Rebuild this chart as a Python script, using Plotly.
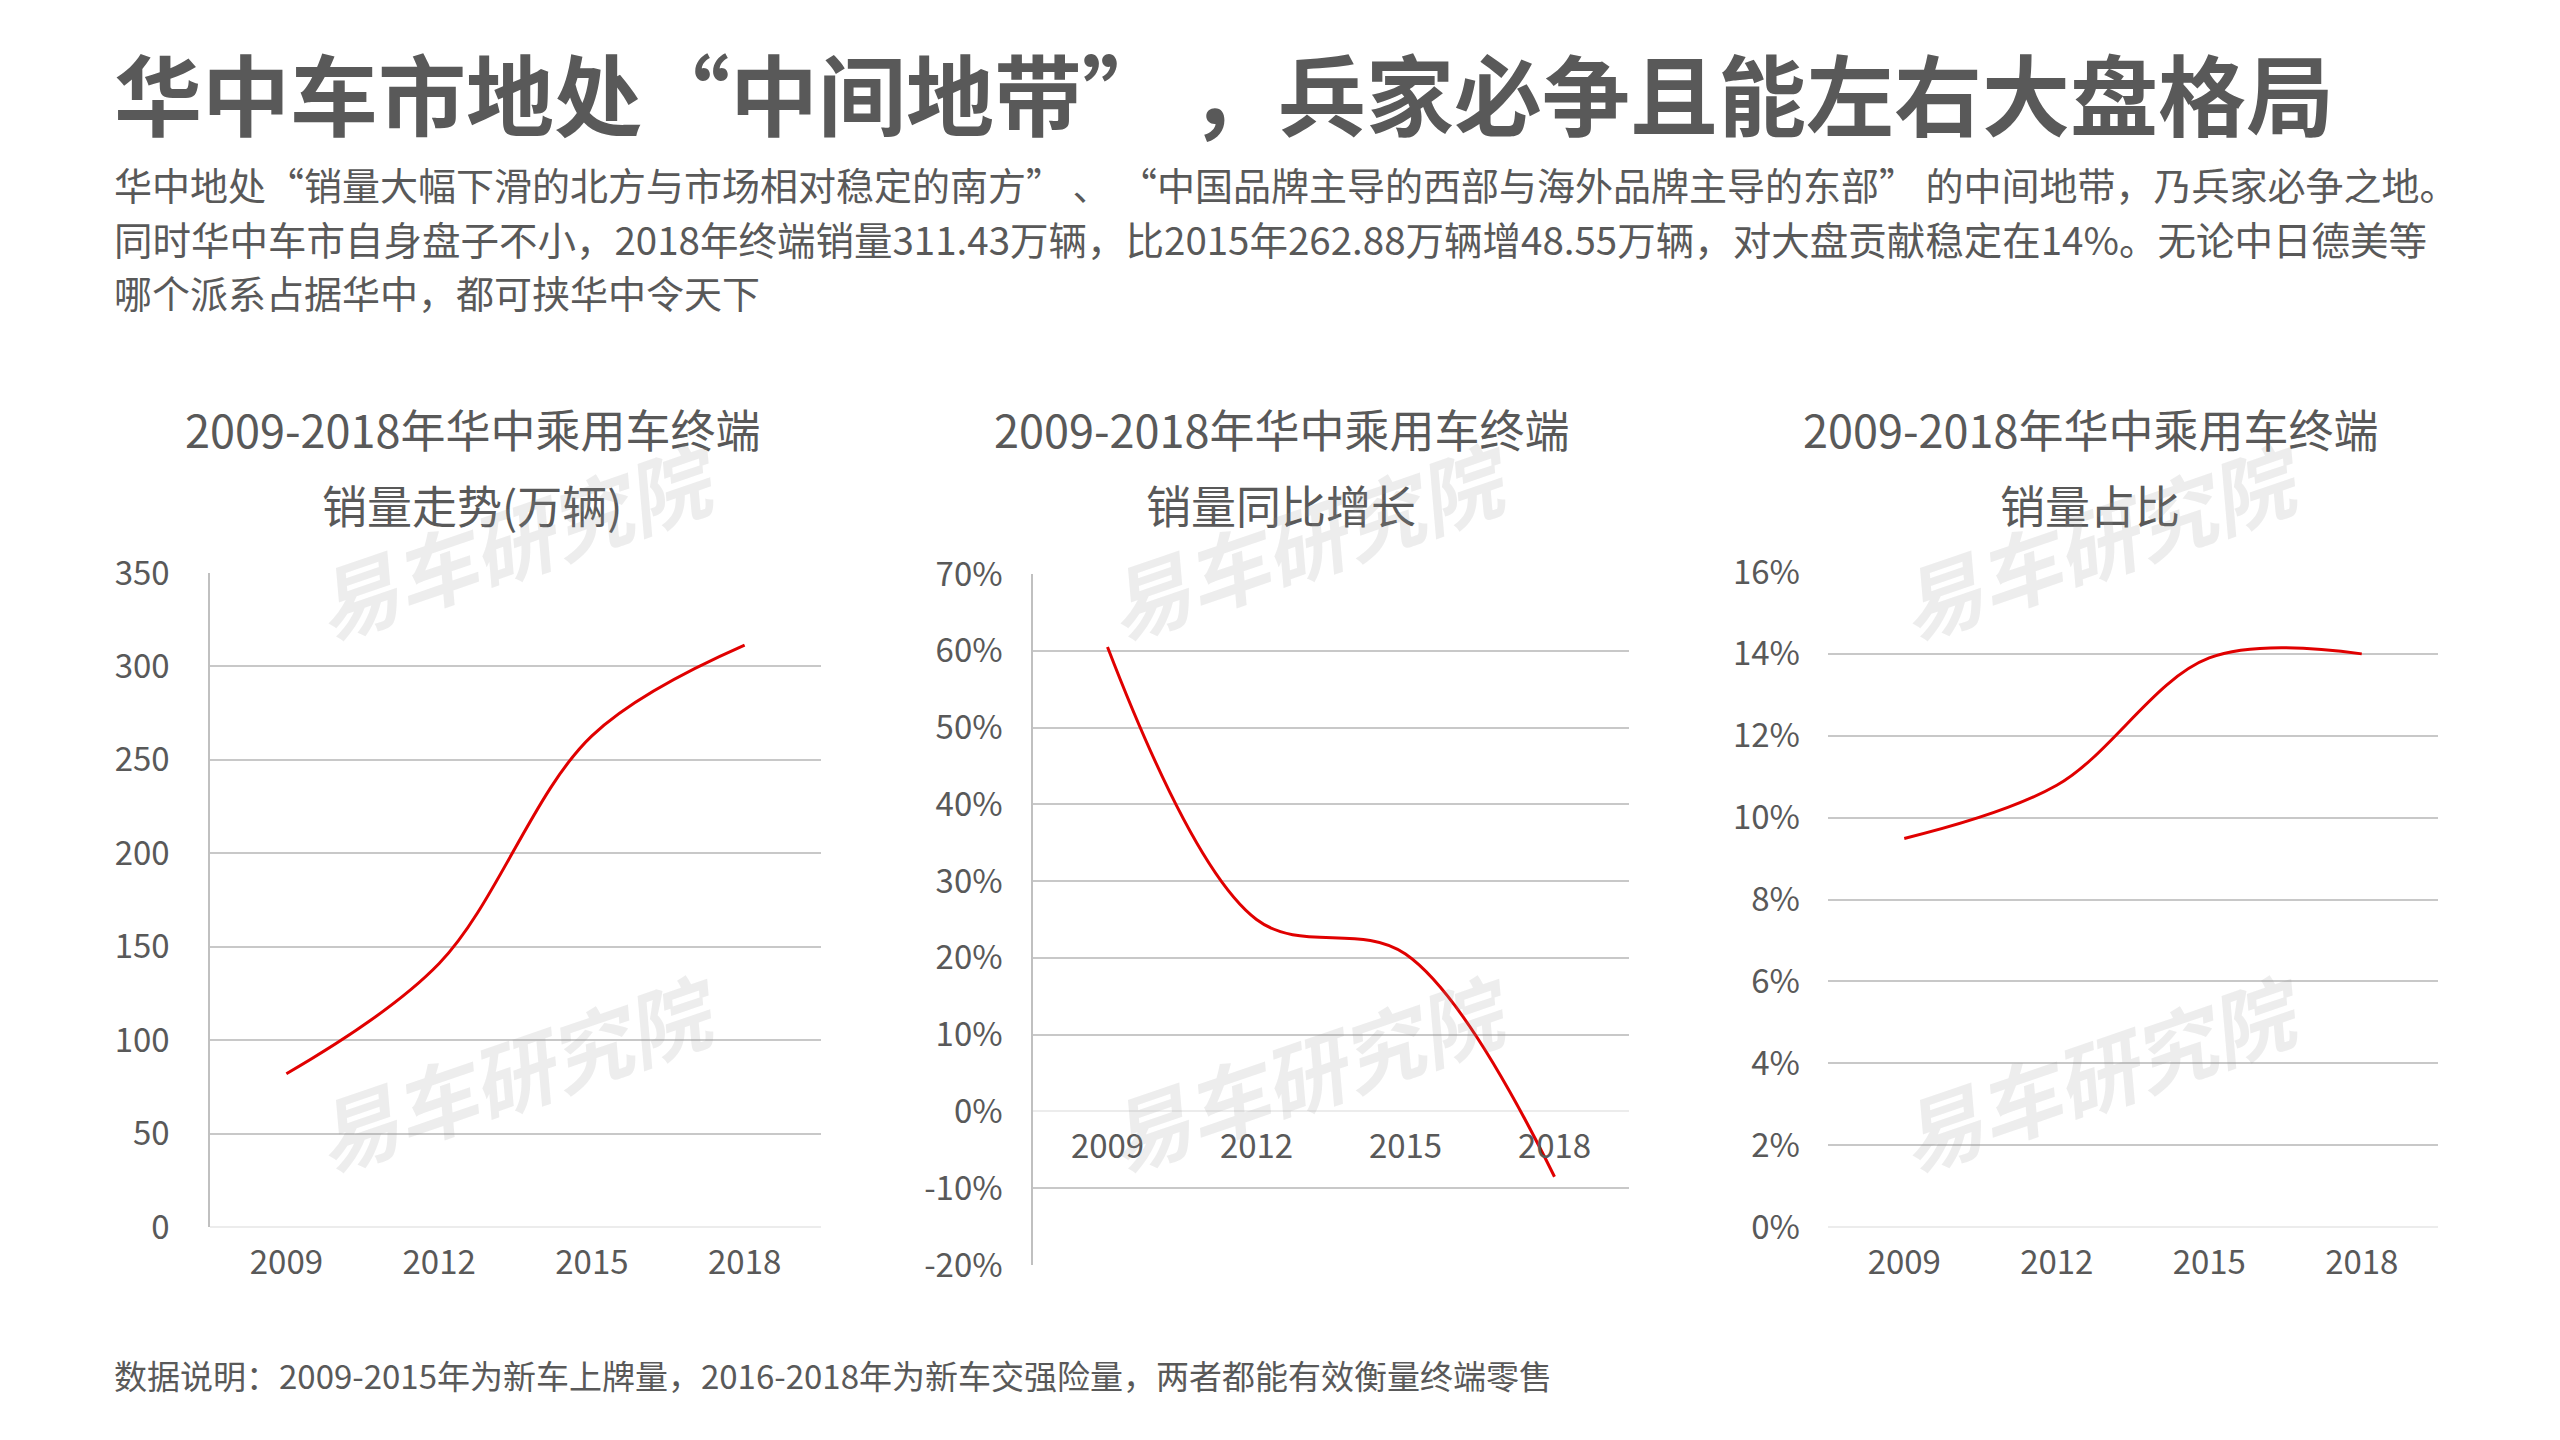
import plotly.graph_objects as go

W, H = 2560, 1440

# ---- data ----
years = ["2009", "2012", "2015", "2018"]
sales = [82, 141, 262.88, 311.43]          # 万辆
yoy = [0.605, 0.25, 0.205, -0.085]         # 同比增长
share = [0.0949, 0.1079, 0.139, 0.140]     # 占比

yoy_tickvals = [-0.2, -0.1, 0, 0.1, 0.2, 0.3, 0.4, 0.5, 0.6, 0.7]
yoy_ticktext = ["-20%", "-10%", "0%", "10%", "20%", "30%", "40%", "50%", "60%", "70%"]

main_title = "华中车市地处“中间地带” ，兵家必争且能左右大盘格局"
sub_lines = [
    "华中地处“销量大幅下滑的北方与市场相对稳定的南方” 、 “中国品牌主导的西部与海外品牌主导的东部” 的中间地带，乃兵家必争之地。",
    "同时华中车市自身盘子不小，2018年终端销量311.43万辆，比2015年262.88万辆增48.55万辆，对大盘贡献稳定在14%。无论中日德美等",
    "哪个派系占据华中，都可挟华中令天下",
]
chart_titles = [
    ("2009-2018年华中乘用车终端", "销量走势(万辆)"),
    ("2009-2018年华中乘用车终端", "销量同比增长"),
    ("2009-2018年华中乘用车终端", "销量占比"),
]
note = "数据说明：2009-2015年为新车上牌量，2016-2018年为新车交强险量，两者都能有效衡量终端零售"
watermark = "易车研究院"

FONT = "Noto Sans CJK SC, Microsoft YaHei, sans-serif"
GRAY = "#595959"
GRID = "#c8c8c8"
RED = "#e00000"


def px(x):
    return x / W


def py(y):
    return 1 - y / H


# plot-area pixel boxes (left, right, top, bottom)
boxes = [(210, 821, 573, 1227), (1033, 1629, 574, 1265), (1828, 2438, 572, 1227)]
yranges = [[0, 350], [-0.2, 0.7], [0, 0.16]]

fig = go.Figure()
series = [sales, yoy, share]
for i, vals in enumerate(series):
    sfx = "" if i == 0 else str(i + 1)
    fig.add_trace(go.Scatter(
        x=years, y=vals, mode="lines",
        line=dict(color=RED, width=3, shape="spline", smoothing=1),
        xaxis="x" + sfx, yaxis="y" + sfx, showlegend=False, hoverinfo="skip"))

layout = dict(
    width=W, height=H, autosize=False,
    margin=dict(l=0, r=0, t=0, b=0, pad=0, autoexpand=False),
    paper_bgcolor="white", plot_bgcolor="rgba(0,0,0,0)",
    font=dict(family=FONT, color=GRAY),
    showlegend=False,
)

tickfont = dict(family=FONT, size=33, color=GRAY)
for i, (l, r, t, b) in enumerate(boxes):
    sfx = "" if i == 0 else str(i + 1)
    ydom = [py(b), py(t)]
    xa = dict(domain=[px(l), px(r)], type="category", range=[-0.5, 3.5],
              showgrid=False, showline=False, zeroline=False, ticks="",
              tickfont=tickfont, anchor="y" + sfx, ticklabelstandoff=13,
              fixedrange=True, automargin=False)
    if i == 1:
        y0, y1 = yranges[1]
        frac = (0 - y0) / (y1 - y0)
        xa.update(anchor="free", position=ydom[0] + frac * (ydom[1] - ydom[0]))
    ya = dict(domain=ydom, range=yranges[i], showgrid=True, gridcolor=GRID,
              gridwidth=2, zeroline=True, zerolinecolor="#ececec",
              zerolinewidth=2, ticks="", tickfont=tickfont,
              anchor="x" + sfx, fixedrange=True, automargin=False)
    if i == 0:
        ya.update(dtick=50, showline=True, linecolor="#c0c0c0", linewidth=1.5,
                  ticklabelstandoff=32)
    elif i == 1:
        ya.update(tickmode="array", tickvals=yoy_tickvals,
                  ticktext=yoy_ticktext, showline=True,
                  linecolor="#c0c0c0", linewidth=1.5, ticklabelstandoff=22)
    else:
        ya.update(dtick=0.02, tickformat=".0%", showline=False,
                  ticklabelstandoff=27)
    layout["xaxis" + sfx] = xa
    layout["yaxis" + sfx] = ya

annotations = []
annotations.append(dict(text=main_title, x=px(112), y=py(90), xref="paper",
                        yref="paper", xanchor="left", yanchor="middle",
                        showarrow=False,
                        font=dict(family=FONT, size=88, color=GRAY, weight=700)))
for txt, yy, fs in zip(sub_lines, [183, 238, 292], [38, 38.5, 38]):
    annotations.append(dict(text=txt, x=px(112), y=py(yy), xref="paper",
                            yref="paper", xanchor="left", yanchor="middle",
                            showarrow=False,
                            font=dict(family=FONT, size=fs, color=GRAY)))
for (t1, t2), cx in zip(chart_titles, [472, 1281, 2090]):
    for txt, yy in ((t1, 428), (t2, 505)):
        annotations.append(dict(text=txt, x=px(cx), y=py(yy), xref="paper",
                                yref="paper", xanchor="center",
                                yanchor="middle", showarrow=False,
                                font=dict(family=FONT, size=45, color=GRAY)))
annotations.append(dict(text=note, x=px(112), y=py(1375), xref="paper",
                        yref="paper", xanchor="left", yanchor="middle",
                        showarrow=False,
                        font=dict(family=FONT, size=33, color=GRAY)))
for cx in [516, 1308, 2100]:
    for cy in [538, 1070]:
        annotations.append(dict(text="<b>" + watermark + "</b>", x=px(cx),
                                y=py(cy), xref="paper", yref="paper",
                                xanchor="center", yanchor="middle",
                                textangle=-19, showarrow=False,
                                font=dict(family=FONT, size=82,
                                          color="rgba(150,150,150,0.17)",
                                          style="italic")))
layout["annotations"] = annotations

fig.update_layout(**layout)
fig.write_html("out.html")
